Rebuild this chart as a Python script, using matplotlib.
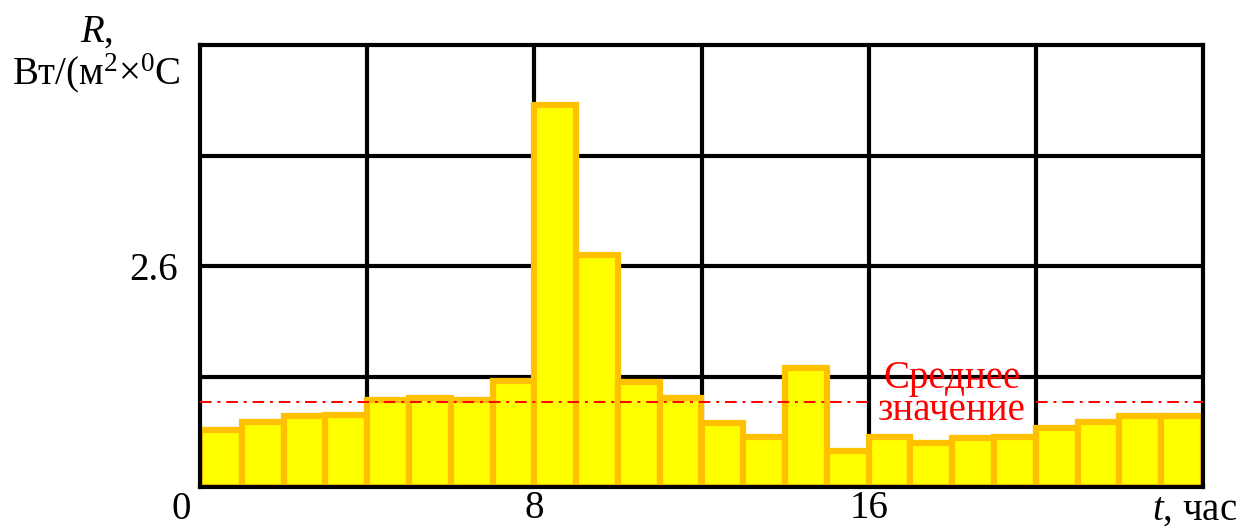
import numpy as np
import matplotlib
matplotlib.use("Agg")
import matplotlib.pyplot as plt

plt.rcParams['font.family'] = ['Liberation Serif', 'DejaVu Serif']
plt.rcParams['mathtext.fontset'] = 'custom'
plt.rcParams['mathtext.rm'] = 'Liberation Serif'
plt.rcParams['mathtext.it'] = 'Liberation Serif:italic'

# Hourly values of R over a day
hours = np.arange(24)
r_values = [0.67, 0.76, 0.84, 0.85, 1.02, 1.05, 1.02, 1.25, 4.50, 2.73, 1.24, 1.05,
            0.75, 0.59, 1.40, 0.42, 0.59, 0.52, 0.58, 0.59, 0.69, 0.76, 0.84, 0.84]
mean_value = 1.00

x_grid = [4, 8, 12, 16, 20]
x_labels = ['', '8', '', '16', '']
y_grid = [1.3, 2.6, 3.9]
y_labels = ['', '2.6', '']

fig = plt.figure(figsize=(12.44, 5.28), dpi=100)
ax = fig.add_axes([200 / 1244, 1 - 487 / 528, (1203 - 200) / 1244, (487 - 45) / 528])

ax.bar(hours, r_values, width=1.0, align='edge', color='#FFFF00',
       edgecolor='#FFC000', linewidth=4.5, zorder=1)

# Mean level, interrupted where the caption sits
mean_style = dict(colors='red', linestyles=(0, (6, 3, 1.5, 3)), linewidth=1.4, zorder=3)
ax.hlines(mean_value, 0, 16, **mean_style)
ax.hlines(mean_value, 20, 24, **mean_style)
ax.text(18, 1.09, 'Среднее\nзначение', color='red', fontsize=28, ha='center',
        va='center', linespacing=0.82, zorder=4)

ax.set_xlim(0, 24)
ax.set_ylim(0, 5.2)
ax.set_xticks(x_grid)
ax.set_xticklabels(x_labels)
ax.set_yticks(y_grid)
ax.set_yticklabels(y_labels)
ax.tick_params(axis='both', length=0, labelsize=28)
ax.tick_params(axis='x', pad=2)
ax.tick_params(axis='y', pad=16)
ax.set_axisbelow(True)
ax.grid(True, color='black', linewidth=3)
for s in ax.spines.values():
    s.set_linewidth(3)
    s.set_color('black')
    s.set_zorder(2.5)

# Origin label and axis captions
ax.text(-0.45, -0.01, '0', fontsize=28, ha='center', va='top',
        transform=ax.get_xaxis_transform(), clip_on=False)
ax.text(23.8, -0.01, '$t$, час', fontsize=28, ha='center', va='top',
        transform=ax.get_xaxis_transform(), clip_on=False)
fig.text(97 / 1244, 1 - 32 / 528, '$R$,', fontsize=28, ha='center', va='center')
fig.text(96 / 1244, 1 - 73 / 528, 'Вт/(м$^2$×$^0$C', fontsize=28, ha='center', va='center')

fig.savefig('out.png', dpi=100)
